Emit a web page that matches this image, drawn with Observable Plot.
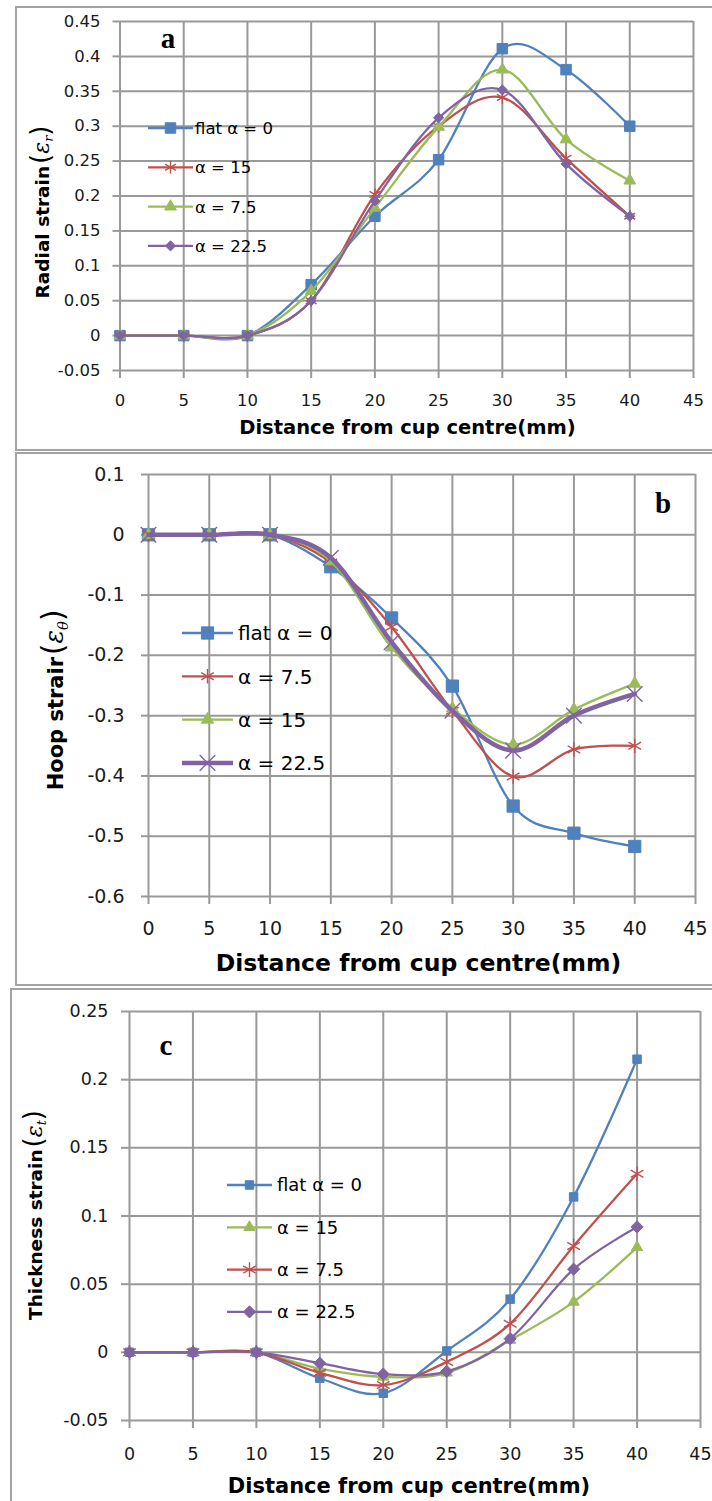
<!DOCTYPE html>
<html><head><meta charset="utf-8">
<script src="https://cdn.jsdelivr.net/npm/d3@7"></script>
<script src="https://cdn.jsdelivr.net/npm/@observablehq/plot@0.6"></script>
<style>
html,body{margin:0;padding:0;background:#fff;width:712px;height:1501px;overflow:hidden;}
#root{position:relative;width:712px;height:1501px;overflow:hidden;}
.panel{position:absolute;left:0;width:712px;}
.border{position:absolute;border:2px solid #a3a3a3;box-sizing:border-box;pointer-events:none;}
</style></head><body><div id="root"></div>
<script>
// ---------- data ----------
const distance = [0, 5, 10, 15, 20, 25, 30, 35, 40];
const xTicks = [0, 5, 10, 15, 20, 25, 30, 35, 40, 45];

// Panel a : radial strain
const radialTicks = [-0.05, 0, 0.05, 0.1, 0.15, 0.2, 0.25, 0.3, 0.35, 0.4, 0.45];
const radialLabels = ["flat α = 0", "α = 15", "α = 7.5", "α = 22.5"];
const radialFlat = [0, 0, 0, 0.073, 0.171, 0.252, 0.411, 0.381, 0.300];
const radial15   = [0, 0, 0, 0.050, 0.202, 0.300, 0.341, 0.254, 0.171];
const radial75   = [0, 0, 0, 0.064, 0.183, 0.299, 0.381, 0.281, 0.222];
const radial225  = [0, 0, 0, 0.050, 0.193, 0.312, 0.352, 0.246, 0.171];

// Panel b : hoop strain
const hoopTicks = [-0.6, -0.5, -0.4, -0.3, -0.2, -0.1, 0, 0.1];
const hoopLabels = ["flat α = 0", "α = 7.5", "α = 15", "α = 22.5"];
const hoopFlat = [0, 0, 0, -0.053, -0.138, -0.251, -0.450, -0.495, -0.517];
const hoop75   = [0, 0, 0, -0.046, -0.153, -0.292, -0.401, -0.356, -0.350];
const hoop15   = [0, 0, 0, -0.044, -0.187, -0.288, -0.348, -0.290, -0.247];
const hoop225  = [0, 0, 0, -0.038, -0.178, -0.292, -0.358, -0.300, -0.264];

// Panel c : thickness strain
const thickTicks = [-0.05, 0, 0.05, 0.1, 0.15, 0.2, 0.25];
const thickLabels = ["flat α = 0", "α = 15", "α = 7.5", "α = 22.5"];
const thickFlat = [0, 0, 0, -0.019, -0.030, 0.001, 0.039, 0.114, 0.215];
const thick15   = [0, 0, 0, -0.012, -0.018, -0.015, 0.009, 0.037, 0.077];
const thick75   = [0, 0, 0, -0.015, -0.024, -0.007, 0.021, 0.078, 0.131];
const thick225  = [0, 0, 0, -0.008, -0.016, -0.014, 0.010, 0.061, 0.092];

// ---------- style ----------
const BLUE = "#4F81BD", RED = "#C0504D", GREEN = "#9BBB59", PURPLE = "#8064A2";
const GRID = "#999999";
const FONT = "'DejaVu Sans', Verdana, sans-serif";
const fmt = d => String(+d.toFixed(3));

const root = document.getElementById("root");

function makePanel(cfg) {
  const div = document.createElement("div");
  div.className = "panel";
  div.style.top = cfg.top + "px";
  div.style.height = cfg.height + "px";
  root.appendChild(div);

  const marks = [
    Plot.gridX(xTicks, {stroke: GRID, strokeOpacity: 1, strokeWidth: 2}),
    Plot.gridY(cfg.yTicks, {stroke: GRID, strokeOpacity: 1, strokeWidth: 2}),
    Plot.axisX(xTicks, {tickSize: 8, tickPadding: cfg.xPad, stroke: GRID, strokeWidth: 2, fill: "#1a1a1a",
      fontSize: cfg.tickFont, tickFormat: d => String(d), label: null}),
    Plot.axisY(cfg.yTicks, {tickSize: cfg.yTickSize, tickPadding: cfg.yPad, stroke: GRID, strokeWidth: 2, fill: "#1a1a1a",
      fontSize: cfg.tickFont, tickFormat: fmt, label: null})
  ];
  cfg.series.forEach(s => {
    const data = distance.map((d, j) => ({x: d, y: s.values[j]}));
    marks.push(Plot.line(data, {x: "x", y: "y", stroke: s.color, strokeWidth: s.width, curve: "cardinal"}));
    const filled = !(s.symbol === "asterisk" || s.symbol === "times");
    marks.push(Plot.dot(data, {x: "x", y: "y", symbol: s.symbol, r: Math.sqrt(s.size / Math.PI),
      fill: filled ? s.color : "none", stroke: s.color, strokeWidth: filled ? 1 : 1.4}));
  });

  const svg = Plot.plot({
    width: 712, height: cfg.height,
    marginLeft: cfg.mL, marginRight: cfg.mR, marginTop: cfg.mT, marginBottom: cfg.mB,
    style: {background: "none", fontFamily: FONT, fontSize: cfg.tickFont + "px", color: "#111", overflow: "visible"},
    x: {domain: [0, 45]},
    y: {domain: [cfg.yTicks[0], cfg.yTicks[cfg.yTicks.length - 1]]},
    marks
  });
  div.appendChild(svg);
  const s = d3.select(svg);

  // x-axis title
  s.append("text").attr("x", cfg.xTitle.x).attr("y", cfg.xTitle.y).attr("dy", "0.36em")
    .attr("text-anchor", "middle").attr("font-family", FONT).attr("font-weight", "bold")
    .attr("font-size", cfg.xTitle.size).attr("fill", "#000").text("Distance from cup centre(mm)");

  // y-axis title with epsilon & subscript
  const yt = cfg.yTitle;
  const t = s.append("text").attr("transform", `translate(${yt.x + 0.36 * yt.size},${yt.y}) rotate(-90)`)
    .attr("text-anchor", "middle").attr("font-family", FONT).attr("fill", "#000");
  t.append("tspan").attr("font-weight", "bold").attr("font-size", yt.size).text(yt.text);
  t.append("tspan").attr("font-size", yt.size * 1.4).attr("dx", 2).attr("font-weight", "normal").text("(");
  t.append("tspan").attr("font-size", yt.size * 1.2).attr("font-family", "'DejaVu Serif', serif").attr("font-style", "italic").text("ε");
  t.append("tspan").attr("font-size", yt.size * 0.7).attr("dy", yt.size * 0.25).attr("font-family", "'DejaVu Serif', serif").attr("font-style", "italic").text(yt.sub);
  t.append("tspan").attr("font-size", yt.size * 1.4).attr("dy", -yt.size * 0.25).text(")");

  // panel letter
  s.append("text").attr("x", cfg.letter.x).attr("y", cfg.letter.y).attr("text-anchor", "middle")
    .attr("font-family", "'Liberation Serif', 'Times New Roman', serif").attr("font-weight", "bold")
    .attr("font-size", 29).attr("fill", "#000").text(cfg.letter.t);

  // legend
  const L = cfg.legend;
  const typeMap = {square: d3.symbolSquare, triangle: d3.symbolTriangle, asterisk: d3.symbolAsterisk,
    diamond2: d3.symbolDiamond2, times: d3.symbolTimes};
  cfg.series.forEach((ser, i) => {
    const y = L.y0 + i * L.dy;
    s.append("line").attr("x1", L.x0).attr("x2", L.x1).attr("y1", y).attr("y2", y)
      .attr("stroke", ser.color).attr("stroke-width", ser.width);
    const filled = !(ser.symbol === "asterisk" || ser.symbol === "times");
    s.append("path").attr("transform", `translate(${(L.x0 + L.x1) / 2},${y})`)
      .attr("d", d3.symbol(typeMap[ser.symbol], ser.size)())
      .attr("fill", filled ? ser.color : "none").attr("stroke", ser.color).attr("stroke-width", filled ? 1 : 1.4);
    s.append("text").attr("x", L.tx).attr("y", y).attr("dy", "0.36em").attr("text-anchor", "start")
      .attr("font-family", FONT).attr("font-size", L.size).attr("fill", "#000").text(ser.label);
  });

  const b = document.createElement("div");
  b.className = "border";
  b.style.left = cfg.border.left + "px";
  b.style.top = cfg.border.top + "px";
  b.style.width = "760px";
  b.style.height = cfg.border.height + "px";
  root.appendChild(b);
}

// Panel a
makePanel({
  top: 0, height: 452, mL: 119.5, mR: 19, mT: 21, mB: 82,
  yTicks: radialTicks, tickFont: 16.5, xPad: 16, yTickSize: 7, yPad: 12.5,
  series: [
    {label: radialLabels[0], values: radialFlat, color: BLUE, symbol: "square", size: 110, width: 2.3},
    {label: radialLabels[1], values: radial15, color: RED, symbol: "asterisk", size: 110, width: 2.3},
    {label: radialLabels[2], values: radial75, color: GREEN, symbol: "triangle", size: 60, width: 2.3},
    {label: radialLabels[3], values: radial225, color: PURPLE, symbol: "diamond2", size: 65, width: 2.3}
  ],
  xTitle: {x: 407.5, y: 427, size: 19.5},
  yTitle: {x: 42, y: 212, size: 18.5, text: "Radial strain", sub: "r"},
  letter: {x: 168, y: 48, t: "a"},
  legend: {x0: 148, x1: 193, tx: 195, y0: 128, dy: 39.3, size: 16.5},
  border: {left: 15, top: 6, height: 445}
});

// Panel b
makePanel({
  top: 452, height: 534, mL: 148, mR: 17, mT: 22, mB: 90,
  yTicks: hoopTicks, tickFont: 19, xPad: 17, yTickSize: 7, yPad: 17,
  series: [
    {label: hoopLabels[0], values: hoopFlat, color: BLUE, symbol: "square", size: 150, width: 2.3},
    {label: hoopLabels[1], values: hoop75, color: RED, symbol: "asterisk", size: 150, width: 2.3},
    {label: hoopLabels[2], values: hoop15, color: GREEN, symbol: "triangle", size: 65, width: 2.3},
    {label: hoopLabels[3], values: hoop225, color: PURPLE, symbol: "times", size: 160, width: 4.5}
  ],
  xTitle: {x: 418.5, y: 963 - 452, size: 23.5},
  yTitle: {x: 55, y: 700 - 452, size: 21, text: "Hoop strair", sub: "θ"},
  letter: {x: 663, y: 513 - 452, t: "b"},
  legend: {x0: 182, x1: 233, tx: 238, y0: 633 - 452, dy: 43.3, size: 20},
  border: {left: 15, top: 452, height: 534}
});

// Panel c
makePanel({
  top: 986, height: 515, mL: 129, mR: 12, mT: 25, mB: 81,
  yTicks: thickTicks, tickFont: 17.5, xPad: 19, yTickSize: 8, yPad: 13,
  series: [
    {label: thickLabels[0], values: thickFlat, color: BLUE, symbol: "square", size: 72, width: 2.3},
    {label: thickLabels[1], values: thick15, color: GREEN, symbol: "triangle", size: 55, width: 2.3},
    {label: thickLabels[2], values: thick75, color: RED, symbol: "asterisk", size: 150, width: 2.3},
    {label: thickLabels[3], values: thick225, color: PURPLE, symbol: "diamond2", size: 95, width: 2.3}
  ],
  xTitle: {x: 409, y: 1485 - 986, size: 21},
  yTitle: {x: 35, y: 1215 - 986, size: 18.5, text: "Thickness strain", sub: "t"},
  letter: {x: 166, y: 1055 - 986, t: "c"},
  legend: {x0: 227, x1: 272, tx: 277, y0: 1185 - 986, dy: 42.3, size: 18},
  border: {left: 10, top: 988, height: 520}
});
</script>
</body></html>
